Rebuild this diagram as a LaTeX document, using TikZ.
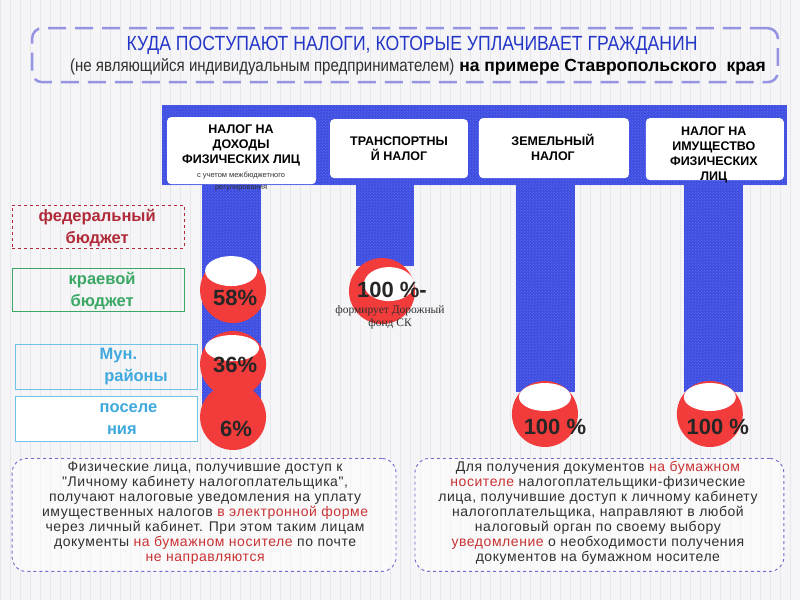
\documentclass[tikz,border=0pt]{standalone}
\usepackage{fontspec}
\setmainfont{Liberation Sans}
\newfontfamily\narrowfont[FakeStretch=0.86]{Liberation Sans}
\newfontfamily\notefont[LetterSpace=4]{Liberation Sans}
\newfontfamily\bookfont{Liberation Serif}
\usetikzlibrary{positioning,shapes.geometric,patterns}

\definecolor{bgcol}{HTML}{F5F5F7}
\definecolor{gridcol}{HTML}{E7E7EC}
\definecolor{framepurple}{HTML}{9494E2}
\definecolor{titleblue}{HTML}{2436C8}
\definecolor{barblue}{HTML}{3D4DE2}
\definecolor{ballred}{HTML}{F23B3B}
\definecolor{fedred}{HTML}{B02A38}
\definecolor{kraigreen}{HTML}{3AA864}
\definecolor{munblue}{HTML}{3FA9DE}
\definecolor{munframe}{HTML}{6EC3E6}
\definecolor{notepurple}{HTML}{6C6CCC}
\definecolor{notered}{HTML}{C83232}
\definecolor{textgray}{HTML}{303030}

\begin{document}
\begin{tikzpicture}[x=1pt, y=-1pt,
  titleframe/.style={draw=framepurple, line width=2.5pt, rounded corners=10pt, dash pattern=on 18pt off 9pt},
  column/.style={fill=barblue, inner sep=0pt, postaction={pattern=crosshatch dots, pattern color=barblue!75!white}},
  taxbox/.style={fill=white, rounded corners=4pt, inner sep=0pt},
  taxtext/.style={font=\bfseries\fontsize{12.5}{15}\selectfont, align=center, text=black},
  budgetbox/.style={draw=#1, line width=0.8pt, inner sep=0pt, minimum width=172, minimum height=43},
  budgettext/.style={font=\bfseries\fontsize{16.5}{22}\selectfont, text=#1},
  ball/.style={circle, fill=ballred, minimum size=66, inner sep=0pt},
  shine/.style={ellipse, fill=white, inner sep=0pt},
  pct/.style={font=\bfseries\fontsize{22}{22}\selectfont, text=black!85},
  notebox/.style={draw=notepurple, dashed, line width=0.9pt, rounded corners=14pt, fill=white, fill opacity=0.5, minimum height=113},
  notetext/.style={font=\notefont\fontsize{14}{15}\selectfont, align=center, text=textgray}
]

% ========== background ==========
\fill[bgcol] (0,0) rectangle (800,600);
\draw[gridcol, line width=0.4pt, step=10] (0,0) grid (800,600);

% ========== title ==========
\node[titleframe, minimum width=746, minimum height=54] (frame) at (405,55) {};
\node[font=\narrowfont\fontsize{20.5}{20.5}\selectfont, text=titleblue] (title) at (412,45)
  {КУДА ПОСТУПАЮТ НАЛОГИ, КОТОРЫЕ УПЛАЧИВАЕТ ГРАЖДАНИН};
\node[font=\fontsize{17.5}{17.5}\selectfont] (subtitle) at (418,67)
  {{\narrowfont\color{textgray}(не являющийся индивидуальным предпринимателем)} \textbf{на примере Ставропольского\ \ края}};

% ========== columns under the header ==========
\node[column, minimum width=59, minimum height=222, anchor=north] (col1) at (231.5,183) {};
\node[column, minimum width=58, minimum height=83, anchor=north] (col2) at (385,183) {};
\node[column, minimum width=59, minimum height=209, anchor=north] (col3) at (545.5,183) {};
\node[column, minimum width=59, minimum height=209, anchor=north] (col4) at (713.5,183) {};

% ========== header bar with the four taxes ==========
\node[column, minimum width=625, minimum height=80] (bar) at (474.5,145) {};

\node[taxbox, minimum width=149, minimum height=67] (ndfl) at (241.5,150.5) {};
\node[taxbox, minimum width=138, minimum height=59] (trans) at (399,148.5) {};
\node[taxbox, minimum width=150, minimum height=60] (zem) at (554,148) {};
\node[taxbox, minimum width=138, minimum height=62] (imush) at (715,149) {};

\node[taxtext] (ndflText) at (241,145) {НАЛОГ НА\\ДОХОДЫ\\ФИЗИЧЕСКИХ ЛИЦ};
\node[font=\fontsize{7.5}{12}\selectfont, align=center, text=textgray] (ndflNote) at (241,181)
  {с учетом межбюджетного\\регулирования};
\node[taxtext] (transText) at (399,148.5) {ТРАНСПОРТНЫ\\Й НАЛОГ};
\node[taxtext] (zemText) at (553,147) {ЗЕМЕЛЬНЫЙ\\НАЛОГ};
\node[taxtext] (imushText) at (714,155) {НАЛОГ НА\\ИМУЩЕСТВО\\ФИЗИЧЕСКИХ\\ЛИЦ};

% ========== shares (balls) ==========
\node[ball] (ball6) at (233,417) {};
\node[ball] (ball58) at (233,290) {};
\node[shine, minimum width=52, minimum height=30] (shine58) at (231,271) {};
\node[ball] (ball36) at (233,364) {};
\node[shine, minimum width=54, minimum height=26] (shine36) at (232,348) {};
\node[pct] (p58) at (235,298) {58\%};
\node[pct] (p36) at (235,365) {36\%};
\node[pct] (p6) at (236,429) {6\%};

\node[ball] (ballTr) at (382,291) {};
\node[shine, minimum width=50, minimum height=34] (shineTr) at (389,284) {};
\node[pct] (pTr) at (392,290) {100 \%-};
\node[font=\bookfont\fontsize{11.5}{13}\selectfont, align=center, text=textgray] (fondNote) at (390,317)
  {формирует Дорожный\\фонд СК};

\node[ball] (ballZem) at (545,414) {};
\node[shine, minimum width=52, minimum height=28] (shineZem) at (545,397) {};
\node[pct] (pZem) at (555,427) {100 \%};

\node[ball] (ballIm) at (710,414) {};
\node[shine, minimum width=52, minimum height=28] (shineIm) at (710,397) {};
\node[pct] (pIm) at (718,427) {100 \%};

% ========== budget levels ==========
\node[budgetbox=fedred, dashed] (fed) at (98,226.5) {};
\node[budgettext=fedred, align=center] (fedText) at (97,228) {федеральный\\бюджет};

\node[budgetbox=kraigreen] (krai) at (98,289.5) {};
\node[budgettext=kraigreen, align=center] (kraiText) at (102,291) {краевой\\бюджет};

\node[budgetbox=munframe, minimum width=182, minimum height=45] (mun) at (106,367) {};
\node[budgettext=munblue, align=left, anchor=west] (munText) at (96,367) {Мун.\\\ районы};

\node[budgetbox=munframe, fill=white, minimum width=182, minimum height=45] (pos) at (106,418.5) {};
\node[budgettext=munblue, align=left, anchor=west] (posText) at (96,419) {поселе\\\ \,ния};

% ========== notes ==========
\node[notebox, minimum width=384] (noteLeft) at (204,515) {};
\node[notetext] (noteLeftText) at (205,513)
  {Физические лица, получившие доступ к\\
   "Личному кабинету налогоплательщика",\\
   получают налоговые уведомления на уплату\\
   имущественных налогов {\color{notered}в электронной форме}\\
   через личный кабинет. При этом таким лицам\\
   документы {\color{notered}на бумажном носителе} по почте\\
   {\color{notered}не направляются}};

\node[notebox, minimum width=369] (noteRight) at (599.5,515) {};
\node[notetext] (noteRightText) at (598,513)
  {Для получения документов {\color{notered}на бумажном}\\
   {\color{notered}носителе} налогоплательщики-физические\\
   лица, получившие доступ к личному кабинету\\
   налогоплательщика, направляют в любой\\
   налоговый орган по своему выбору\\
   {\color{notered}уведомление} о необходимости получения\\
   документов на бумажном носителе};

\end{tikzpicture}
\end{document}
